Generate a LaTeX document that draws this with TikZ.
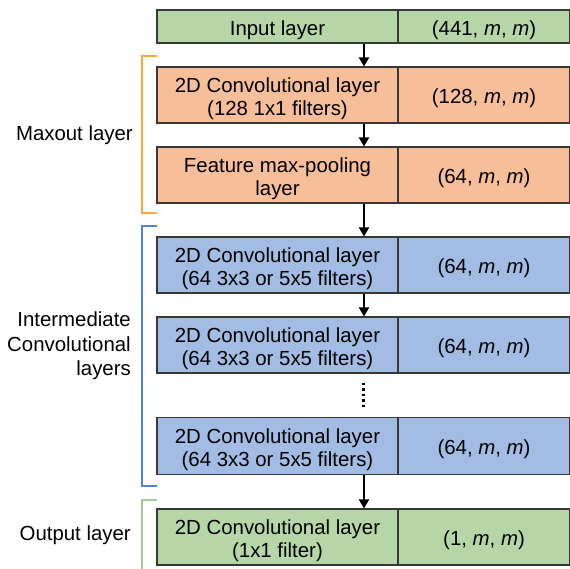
\documentclass[tikz,border=0pt]{standalone}
\usepackage{fontspec}
\setmainfont{Liberation Sans}
\usetikzlibrary{arrows.meta}

\definecolor{boxgreen}{HTML}{B6D6A7}
\definecolor{boxorange}{HTML}{F6BF9A}
\definecolor{boxblue}{HTML}{A3BCE3}
\definecolor{brorange}{HTML}{FBA83A}
\definecolor{brblue}{HTML}{4F82D6}
\definecolor{brgreen}{HTML}{A5CC93}
\definecolor{edge}{HTML}{383838}

\begin{document}
\begin{tikzpicture}[x=1pt, y=-1pt,
    layer/.style={draw=edge, line width=1.1pt, minimum width=241pt, minimum height=56pt,
      inner sep=0pt, align=center, font=\fontsize{20.4}{23}\selectfont,
      execute at begin node={\rule{0pt}{22pt}}},
    two/.style={layer, execute at begin node={\rule{0pt}{45pt}}},
    dims/.style={layer, minimum width=172pt},
    lbl/.style={anchor=east, align=right, inner sep=0pt, font=\fontsize{20.4}{24.5}\selectfont},
    arr/.style={-{Triangle[length=9pt, width=10pt]}, line width=2pt},
    bracket/.style={line width=1.1pt}]
  \useasboundingbox (0,0) rectangle (570,568);

  % layers
  \node[layer, fill=boxgreen, minimum height=33pt] (in) at (277.5,26.5) {Input layer};
  \node[dims, fill=boxgreen, minimum height=33pt] (inD) at (484,26.5) {(441, \textit{m}, \textit{m})};

  \node[two, fill=boxorange] (conv) at (277.5,95) {2D Convolutional layer\\(128 1x1 filters)};
  \node[dims, fill=boxorange] (convD) at (484,95) {(128, \textit{m}, \textit{m})};

  \node[two, fill=boxorange] (pool) at (277.5,175) {Feature max-pooling\\layer};
  \node[dims, fill=boxorange] (poolD) at (484,175) {(64, \textit{m}, \textit{m})};

  \node[two, fill=boxblue] (midA) at (277.5,265) {2D Convolutional layer\\(64 3x3 or 5x5 filters)};
  \node[dims, fill=boxblue] (midAD) at (484,265) {(64, \textit{m}, \textit{m})};

  \node[two, fill=boxblue] (midB) at (277.5,345) {2D Convolutional layer\\(64 3x3 or 5x5 filters)};
  \node[dims, fill=boxblue] (midBD) at (484,345) {(64, \textit{m}, \textit{m})};

  \node[two, fill=boxblue, minimum height=57pt] (midC) at (277.5,446) {2D Convolutional layer\\(64 3x3 or 5x5 filters)};
  \node[dims, fill=boxblue, minimum height=57pt] (midCD) at (484,446) {(64, \textit{m}, \textit{m})};

  \node[two, fill=boxgreen] (out) at (277.5,537) {2D Convolutional layer\\(1x1 filter)};
  \node[dims, fill=boxgreen] (outD) at (484,537) {(1, \textit{m}, \textit{m})};

  % arrows
  \draw[arr] ([xshift=86.5pt]in.south) -- ([xshift=86.5pt]conv.north);
  \draw[arr] ([xshift=86.5pt]conv.south) -- ([xshift=86.5pt]pool.north);
  \draw[arr] ([xshift=86.5pt]pool.south) -- ([xshift=86.5pt]midA.north);
  \draw[arr] ([xshift=86.5pt]midA.south) -- ([xshift=86.5pt]midB.north);
  \draw[line width=2.6pt, dash pattern=on 2.6pt off 2.9pt]
    ([xshift=86pt,yshift=-9pt]midB.south) -- ([xshift=86pt,yshift=8pt]midC.north);
  \draw[arr] ([xshift=86.5pt]midC.south) -- ([xshift=86.5pt]out.north);

  % brackets
  \draw[bracket, brorange] (157,56) -- (142,56) -- (142,213) -- (157,213);
  \draw[bracket, brblue] (157,226) -- (142,226) -- (142,486) -- (157,486);
  \draw[bracket, brgreen] (157,500) -- (142,500) -- (142,570);

  % group labels
  \node[lbl] (maxout) at (133,135) {Maxout layer};
  \node[lbl] (inter) at (131,346) {Intermediate\\Convolutional\\layers};
  \node[lbl] (output) at (131,535) {Output layer};
\end{tikzpicture}
\end{document}
